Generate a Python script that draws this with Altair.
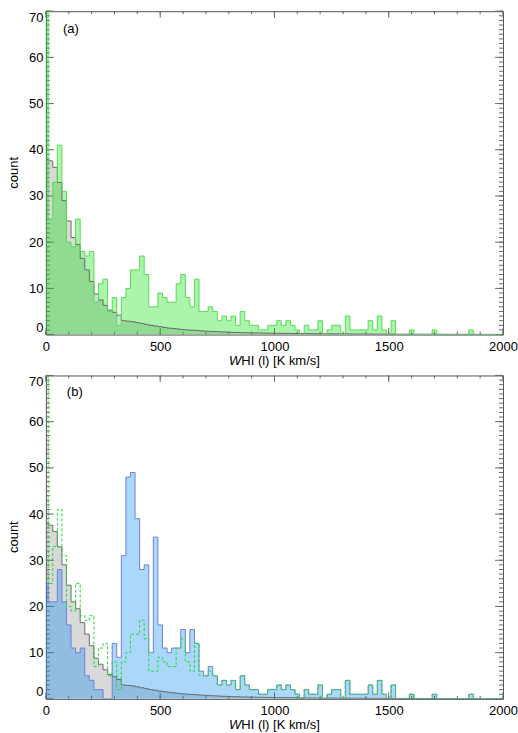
import altair as alt
import pandas as pd

# Histogram bins: centres every 20 K km/s, bins span centre +/- 10
bin_centers = list(range(0, 2001, 20))
bin_width = 20

# Counts per bin (0, 20, 40, ... 2000)
green_counts = [
    150, 25, 33, 41, 31, 20, 19, 25, 18, 17,
    18, 7, 11, 12, 5, 8, 2, 8, 10, 14,
    14, 17, 13, 6, 6, 9, 8, 7, 7, 11,
    13, 8, 6, 12, 5, 5, 6, 5, 3, 4,
    3, 4, 2, 5, 3, 2, 2, 1, 1, 2,
    2, 3, 2, 3, 2, 1, 0, 2, 1, 1,
    3, 0, 1, 2, 2, 0, 4, 1, 1, 1,
    1, 3, 1, 4, 1, 0, 3, 0, 0, 0,
    1, 0, 0, 0, 0, 1, 0, 0, 0, 0,
    0, 0, 0, 1, 0, 0, 0, 0, 0, 0,
    0,
]

gray_counts = [
    38, 37.6, 36.2, 32.9, 29, 24.6, 21, 19.5, 16.5, 14,
    11.5, 8.8, 7.5, 6.3, 5.3, 4.8, 4.2, 3.0, 2.9, 2.8,
    2.6, 2.4, 2.2, 2.0, 1.85, 1.7, 1.55, 1.4, 1.3, 1.2,
    1.1, 1.0, 0.95, 0.9, 0.8, 0.75, 0.7, 0.65, 0.6, 0.55,
    0.5, 0.48, 0.45, 0.42, 0.4, 0.38, 0.36, 0.34, 0.32, 0.3,
    0.28, 0.27, 0.26, 0.25, 0.24, 0.23, 0.22, 0.21, 0.2, 0.19,
    0.18, 0.17, 0.17, 0.16, 0.15, 0.15, 0.14, 0.14, 0.13, 0.13,
    0.12, 0.12, 0.11, 0.11, 0.1, 0.1, 0.1, 0.09, 0.09, 0.09,
    0.08, 0.08, 0.08, 0.07, 0.07, 0.07, 0.07, 0.06, 0.06, 0.06,
    0.06, 0.05, 0.05, 0.05, 0.05, 0.05, 0.04, 0.04, 0.04, 0.04,
    0.04,
]

blue_counts = [
    25, 21, 21, 28, 21, 16, 11, 10, 11, 5,
    4, 2, 2, 0, 0, 12, 9, 31, 48, 49,
    39, 28, 29, 10, 35, 16, 11, 10, 11, 11,
    15, 10, 15, 12, 6, 5, 7, 5, 3, 4,
    3, 4, 2, 5, 3, 2, 2, 1, 1, 2,
    2, 3, 2, 3, 2, 1, 0, 2, 1, 1,
    3, 0, 1, 2, 2, 0, 4, 1, 1, 1,
    1, 3, 1, 4, 1, 0, 3, 0, 0, 0,
    1, 0, 0, 0, 0, 1, 0, 0, 0, 0,
    0, 0, 0, 1, 0, 0, 0, 0, 0, 0,
    0,
]

# Axis tick positions
x_major = [0, 500, 1000, 1500, 2000]
x_minor = list(range(0, 2001, 100))
y_major = list(range(0, 71, 10))
y_minor = list(range(0, 71, 1))

W, H = 458, 324
FONT = "Liberation Sans"
TICK = "#666666"

xs = alt.Scale(domain=[0, 2000], nice=False, zero=False)
ys = alt.Scale(domain=[0, 70], nice=False, zero=False)

XAXIS = alt.Axis(values=x_major, format="d", ticks=False, domain=False, grid=False,
                 labelFont=FONT, labelFontSize=13, labelColor="black",
                 labelPadding=6, labelFlush=False, labelOverlap=False, title=None)
YAXIS = alt.Axis(values=y_major, format="d", ticks=False, domain=False, grid=False,
                 labelFont=FONT, labelFontSize=13, labelColor="black",
                 labelPadding=3, labelFlush=True, labelOverlap=False, title=None)


def X(field):
    return alt.X(field, scale=xs, axis=XAXIS)


def Y(field):
    return alt.Y(field, scale=ys, axis=YAXIS)


def steps(counts):
    rows = [{"x": c - bin_width / 2, "y": v} for c, v in zip(bin_centers, counts)]
    rows.append({"x": bin_centers[-1] + bin_width / 2, "y": counts[-1]})
    return pd.DataFrame(rows)


def fill(counts, color, opacity):
    return alt.Chart(steps(counts)).mark_area(
        interpolate="step-after", color=color, opacity=opacity, clip=True
    ).encode(x=X("x:Q"), y=Y("y:Q"))


def outline(counts, color, dash=None):
    kw = dict(interpolate="step-after", color=color, strokeWidth=1, clip=True)
    if dash:
        kw["strokeDash"] = dash
    return alt.Chart(steps(counts)).mark_line(**kw).encode(x=X("x:Q"), y=Y("y:Q"))


def frame_ticks():
    layers = []
    # bottom and top x ticks (pointing inward)
    for vals, L in ((x_major, 6.5), (x_minor, 3)):
        d = pd.DataFrame({"t": vals})
        layers.append(alt.Chart(d).mark_rule(color=TICK, strokeWidth=1).encode(
            x=X("t:Q"), y=alt.value(H), y2=alt.value(H - L)))
        layers.append(alt.Chart(d).mark_rule(color=TICK, strokeWidth=1).encode(
            x=X("t:Q"), y=alt.value(0), y2=alt.value(L)))
    # left and right y ticks (pointing inward)
    for vals, L in ((y_major, 8), (y_minor, 4)):
        d = pd.DataFrame({"t": vals})
        layers.append(alt.Chart(d).mark_rule(color=TICK, strokeWidth=1).encode(
            y=Y("t:Q"), x=alt.value(0), x2=alt.value(L)))
        layers.append(alt.Chart(d).mark_rule(color=TICK, strokeWidth=1).encode(
            y=Y("t:Q"), x=alt.value(W), x2=alt.value(W - L)))
    return layers


def text(s, x, y, **kw):
    opts = dict(font=FONT, fontSize=13, color="black", baseline="middle", align="left")
    opts.update(kw)
    return alt.Chart(pd.DataFrame({"t": [s]})).mark_text(**opts).encode(
        x=alt.value(x), y=alt.value(y), text="t:N")


def titles(tag, tx, ty):
    x0 = W / 2 - 45.5
    return [
        text(tag, tx, ty),
        text("W", x0, H + 26, fontStyle="italic"),
        text("HI (l) [K km/s]", x0 + 12.3, H + 26),
        text("count", -32.4, H / 2, angle=270, align="center"),
    ]


panel_a = alt.layer(
    *frame_ticks(),
    fill(gray_counts, "#808080", 0.3),
    fill(green_counts, "#00dd00", 0.33),
    outline(gray_counts, "#6a6a6a"),
    outline(green_counts, "#55dd55"),
    *titles("(a)", 17, 18),
).properties(width=W, height=H)

panel_b = alt.layer(
    *frame_ticks(),
    fill(gray_counts, "#808080", 0.3),
    fill(blue_counts, "#0086f0", 0.33),
    outline(gray_counts, "#6a6a6a"),
    outline(blue_counts, "#7080e0"),
    outline(green_counts, "#22dd33", dash=[3, 2]),
    *titles("(b)", 21, 17),
).properties(width=W, height=H)

chart = alt.VConcatChart(
    vconcat=[panel_a, panel_b], spacing=41, bounds="flush"
).properties(
    padding={"left": 7, "top": 9.5, "right": 0, "bottom": 0},
    background="white",
).configure_view(stroke="#555555", strokeWidth=1)

chart.save("out.html", embed_options={"renderer": "svg", "actions": False})
